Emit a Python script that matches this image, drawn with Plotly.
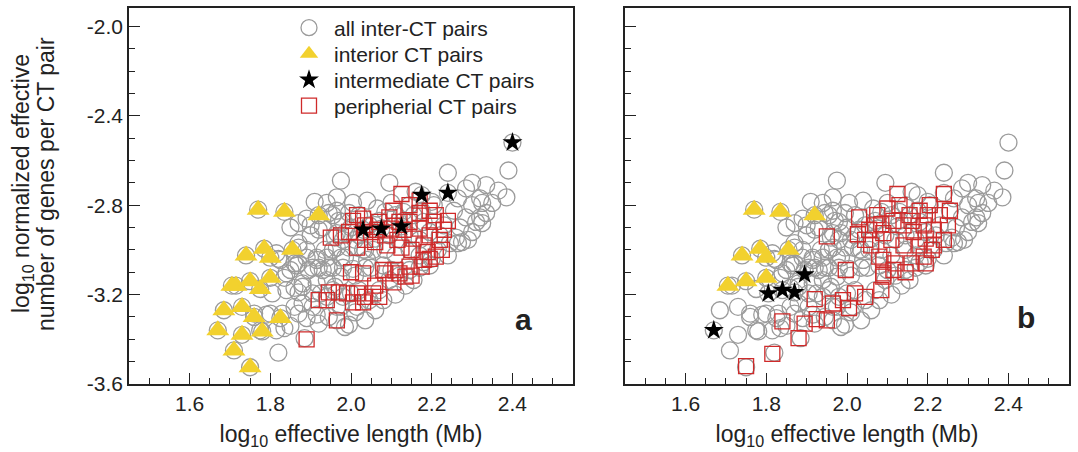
import plotly.graph_objects as go

# ---------------- data (log10 effective length, log10 normalized genes) ----------------
all_pairs = [
    # circles under interior (triangle) pairs
    (1.77,-2.82),(1.835,-2.83),(1.92,-2.845),(1.74,-3.025),(1.785,-2.995),(1.80,-3.035),(1.855,-3.00),
    (1.705,-3.16),(1.715,-3.16),(1.75,-3.14),(1.775,-3.175),(1.80,-3.125),(1.685,-3.27),(1.73,-3.255),
    (1.76,-3.30),(1.825,-3.305),(1.67,-3.36),(1.73,-3.38),(1.78,-3.365),(1.71,-3.45),(1.75,-3.525),
    # circles under stars
    (2.03,-2.91),(2.075,-2.905),(2.125,-2.895),(2.175,-2.755),(2.24,-2.745),(2.40,-2.52),
    # right arm
    (2.39,-2.645),(2.385,-2.765),(2.24,-2.655),(2.335,-2.71),(2.30,-2.70),(2.285,-2.725),(2.32,-2.77),
    (2.35,-2.79),(2.335,-2.835),(2.30,-2.80),(2.285,-2.855),(2.31,-2.875),(2.27,-2.90),(2.26,-2.945),
    (2.275,-2.965),(2.245,-2.97),(2.255,-2.825),(2.23,-2.89),(2.22,-2.935),(2.215,-3.00),(2.24,-3.025),
    (2.20,-3.04),(2.18,-3.055),(2.265,-2.77),(2.205,-2.80),(2.365,-2.735),(2.325,-2.79),(2.32,-2.855),
    (2.30,-2.92),(2.325,-2.88),(2.29,-2.955),(2.265,-2.97),
    # centre top
    (1.975,-2.69),(2.095,-2.70),(2.16,-2.74),(2.20,-2.785),(1.965,-2.765),(2.005,-2.79),(2.04,-2.78),
    (2.065,-2.815),(2.10,-2.79),(1.955,-2.845),(1.98,-2.875),(1.995,-2.835),(1.965,-2.925),(1.98,-2.955),
    (1.955,-3.00),(1.985,-3.035),(1.995,-2.99),(2.035,-3.08),(2.05,-3.08),(2.02,-2.845),(2.045,-2.89),
    (2.07,-2.87),(2.11,-2.845),(2.13,-2.87),(2.155,-2.845),(2.18,-2.875),(2.02,-2.935),(2.06,-2.95),
    (2.095,-2.935),(2.12,-2.955),(2.145,-2.935),(2.17,-2.955),(2.195,-2.92),(2.085,-3.00),(2.11,-3.025),
    (2.145,-3.00),(2.17,-3.025),(2.035,-3.00),(2.01,-2.955),(1.97,-2.87),(2.00,-2.90),(1.985,-2.925),
    (2.04,-3.045),(2.015,-2.99),(2.055,-3.00),(2.145,-2.80),(2.175,-2.825),(2.13,-2.83),(2.085,-2.83),
    # left centre
    (1.91,-2.785),(1.94,-2.79),(1.945,-2.835),(1.965,-2.825),(1.87,-2.88),(1.85,-2.90),(1.89,-2.86),
    (1.93,-2.90),(1.90,-2.89),(1.92,-2.91),(1.90,-2.935),(1.96,-2.945),(1.965,-2.99),(1.87,-2.97),
    (1.82,-3.04),(1.815,-3.015),(1.825,-3.045),(1.85,-3.09),(1.86,-3.06),(1.87,-3.06),(1.87,-2.99),
    (1.89,-3.00),(1.89,-3.035),(1.915,-3.035),(1.915,-3.045),(1.935,-3.00),(1.94,-3.035),(1.955,-3.00),
    (1.975,-3.035),(1.945,-3.08),(1.955,-3.08),(1.895,-3.09),(1.905,-3.08),(1.84,-3.105),(1.865,-3.07),
    (1.92,-3.08),(1.93,-3.09),(1.98,-3.08),(2.005,-3.085),(2.03,-3.00),(1.835,-3.125),(1.84,-3.18),
    (1.86,-3.17),(1.88,-3.15),(1.88,-3.165),(1.905,-3.195),(1.915,-3.15),(1.925,-3.195),(1.94,-3.21),
    (1.94,-3.135),(1.955,-3.18),(1.96,-3.165),(1.975,-3.12),(2.00,-3.195),(1.965,-3.255),(1.975,-3.255),
    (2.015,-3.255),(1.86,-3.255),(1.88,-3.24),(1.905,-3.255),(1.80,-3.285),(1.83,-3.285),(1.85,-3.34),
    (1.87,-3.285),(1.89,-3.305),(1.915,-3.29),(1.92,-3.33),(1.945,-3.30),(1.76,-3.285),(1.79,-3.29),
    (1.775,-3.36),(1.815,-3.36),(1.835,-3.35),(1.82,-3.46),(1.805,-3.195),(1.87,-3.19),(1.98,-3.21),
    (1.885,-3.395),(1.965,-3.315),(1.985,-3.345),
    # lower right
    (2.02,-3.18),(2.045,-3.225),(2.07,-3.18),(2.095,-3.135),(2.12,-3.115),(2.145,-3.09),(2.17,-3.08),
    (2.08,-3.225),(2.11,-3.20),(2.06,-3.27),(2.035,-3.315),(2.01,-3.28),(1.995,-3.335),(2.135,-3.16),
    (2.155,-3.135),(2.195,-3.07),(2.10,-3.09),(2.08,-3.07),(2.01,-3.115),
]

interior_a = [
    (1.77,-2.82),(1.835,-2.83),(1.92,-2.845),(1.74,-3.025),(1.785,-2.995),(1.80,-3.035),(1.855,-3.00),
    (1.705,-3.16),(1.715,-3.16),(1.75,-3.14),(1.775,-3.175),(1.80,-3.125),(1.685,-3.27),(1.73,-3.255),
    (1.76,-3.30),(1.825,-3.305),(1.67,-3.36),(1.73,-3.38),(1.78,-3.365),(1.71,-3.45),(1.75,-3.525),
]
intermediate_a = [(2.03,-2.91),(2.075,-2.905),(2.125,-2.895),(2.175,-2.755),(2.24,-2.745),(2.40,-2.52)]
peripheral_a = [
    (2.125,-2.75),(1.95,-2.945),(2.015,-2.845),(2.005,-2.87),(2.03,-2.86),(2.035,-2.89),(2.05,-2.92),
    (2.07,-2.875),(2.085,-2.935),(2.10,-2.905),(2.115,-2.955),(2.13,-2.91),(2.145,-2.875),(2.155,-2.95),
    (2.17,-2.905),(2.18,-2.98),(2.195,-2.935),(2.205,-2.875),(2.22,-2.955),(2.23,-2.91),(2.24,-2.87),
    (2.21,-2.845),(2.17,-2.835),(2.145,-2.80),(2.105,-2.825),(2.06,-2.965),(2.09,-2.98),(2.125,-2.99),
    (2.15,-3.00),(2.19,-3.01),(2.035,-2.955),(1.995,-2.92),(2.015,-2.99),(1.975,-2.935),(2.17,-2.78),
    (2.195,-2.825),(2.225,-3.00),(2.065,-2.91),(2.12,-2.875),(2.095,-2.855),
    (2.00,-3.10),(2.03,-3.105),(2.085,-3.105),(2.11,-3.09),(2.145,-3.075),(2.18,-3.045),(2.21,-3.03),
    (2.105,-3.145),(2.135,-3.12),(2.06,-3.16),(2.08,-3.09),(2.12,-3.105),(2.15,-3.115),(2.175,-3.075),
    (2.195,-3.04),(1.945,-3.19),(1.92,-3.225),(1.94,-3.225),(1.97,-3.19),(1.99,-3.195),(2.015,-3.195),
    (2.035,-3.21),(2.055,-3.195),(2.005,-3.235),(2.03,-3.235),(2.07,-3.21),(1.965,-3.315),(1.89,-3.40),
]

interior_b = [
    (1.77,-2.82),(1.835,-2.83),(1.92,-2.845),(1.74,-3.025),(1.785,-2.995),(1.80,-3.035),(1.855,-3.00),
    (1.705,-3.16),(1.75,-3.14),(1.80,-3.125),
]
intermediate_b = [(1.67,-3.36),(1.805,-3.195),(1.84,-3.18),(1.87,-3.19),(1.895,-3.11)]
peripheral_b = [
    (1.95,-2.94),(2.03,-2.855),(2.027,-2.93),(2.055,-2.91),(2.085,-2.885),(2.045,-2.955),(2.09,-2.925),
    (1.997,-3.09),(2.09,-3.045),(2.125,-2.75),(2.24,-2.75),(2.13,-2.80),(2.155,-2.845),(2.18,-2.825),
    (2.205,-2.80),(2.23,-2.845),(2.25,-2.89),(2.215,-2.91),(2.19,-2.89),(2.165,-2.92),(2.14,-2.89),
    (2.115,-2.87),(2.11,-2.955),(2.14,-2.98),(2.18,-2.98),(2.215,-2.98),(2.24,-2.955),(2.255,-2.825),
    (2.10,-2.815),(2.075,-2.845),(2.20,-2.845),(2.07,-2.89),(2.06,-2.98),(2.16,-2.87),(2.195,-2.95),
    (2.08,-3.03),(2.12,-3.06),(2.16,-3.06),(2.19,-3.03),(2.21,-3.00),(2.195,-3.06),(2.09,-3.105),
    (2.115,-3.09),(2.145,-3.10),(1.99,-3.225),(2.02,-3.195),(2.045,-3.21),(1.92,-3.22),(1.84,-3.32),
    (1.815,-3.465),(1.75,-3.52),(1.88,-3.395),(1.895,-3.33),(1.925,-3.31),(1.95,-3.315),(2.09,-3.12),
    (2.085,-3.18),(1.965,-3.24),(2.005,-3.26),
]

x_ticks = [1.6, 1.8, 2.0, 2.2, 2.4]
x_tick_labels = ["1.6", "1.8", "2.0", "2.2", "2.4"]
y_ticks = [-3.6, -3.2, -2.8, -2.4, -2.0]
y_tick_labels = ["-3.6", "-3.2", "-2.8", "-2.4", "-2.0"]

legend_names = ["all inter-CT pairs", "interior CT pairs", "intermediate CT pairs", "peripherial CT pairs"]

# ---------------- styles ----------------
GRAY = "#9b9b9b"
RED = "#cf2a2a"
GOLD = "#f2d12e"
INK = "#222222"
FONT = "Liberation Sans, Arial, sans-serif"
W, H = 1078, 452

# one single-row legend per series so the row spacing can follow the reference
legend_ids = ["legend", "legend2", "legend3", "legend4"]
legend_rows_px = [28, 54, 80, 106]


def xs(p):
    return [a for a, b in p]


def ys(p):
    return [b for a, b in p]


fig = go.Figure()

panels = [
    ("x", "y", interior_a, intermediate_a, peripheral_a, True),
    ("x2", "y2", interior_b, intermediate_b, peripheral_b, False),
]
for xa, ya, inter, med, peri, show in panels:
    fig.add_trace(go.Scatter(
        x=xs(all_pairs), y=ys(all_pairs), mode="markers", xaxis=xa, yaxis=ya,
        name=legend_names[0], showlegend=show, legend=legend_ids[0],
        marker=dict(symbol="circle-open", size=17, color=GRAY, line=dict(width=1.3, color=GRAY))))
    fig.add_trace(go.Scatter(
        x=xs(peri), y=ys(peri), mode="markers", xaxis=xa, yaxis=ya,
        name=legend_names[3], showlegend=show, legend=legend_ids[3],
        marker=dict(symbol="square-open", size=15, color=RED, line=dict(width=1.3, color=RED))))
    fig.add_trace(go.Scatter(
        x=xs(inter), y=ys(inter), mode="markers", xaxis=xa, yaxis=ya,
        name=legend_names[1], showlegend=show, legend=legend_ids[1],
        marker=dict(symbol="triangle-up", size=20, color=GOLD, line=dict(width=0))))
    fig.add_trace(go.Scatter(
        x=xs(med), y=ys(med), mode="markers", xaxis=xa, yaxis=ya,
        name=legend_names[2], showlegend=show, legend=legend_ids[2],
        marker=dict(symbol="star", size=15, color="black", line=dict(width=0))))

ydom = [1 - 384 / H, 1 - 8 / H]
common_x = dict(range=[1.45, 2.55], tickmode="array", tickvals=x_ticks, ticktext=x_tick_labels,
                ticks="inside", ticklen=11, tickwidth=1.3, tickcolor=INK, showline=True,
                linecolor=INK, linewidth=1.5, mirror=True, showgrid=False, zeroline=False,
                tickfont=dict(family=FONT, size=21, color=INK),
                minor=dict(ticks="inside", ticklen=6, tickwidth=1, tickcolor=INK, dtick=0.05,
                           tick0=1.45, showgrid=False),
                title=dict(text="log<sub>10</sub> effective length (Mb)",
                           font=dict(family=FONT, size=23, color=INK), standoff=12))
common_y = dict(range=[-3.6, -1.918], domain=ydom, tickmode="array", tickvals=y_ticks,
                ticktext=y_tick_labels, ticks="inside", ticklen=11, tickwidth=1.3, tickcolor=INK,
                showline=True, linecolor=INK, linewidth=1.5, mirror=True, showgrid=False,
                zeroline=False, tickfont=dict(family=FONT, size=21, color=INK),
                minor=dict(ticks="inside", ticklen=6, tickwidth=1, tickcolor=INK, dtick=0.1,
                           tick0=-3.6, showgrid=False))

legend_style = dict(x=284 / W, xanchor="left", yanchor="middle", bgcolor="rgba(0,0,0,0)",
                    font=dict(family=FONT, size=21, color=INK), itemsizing="trace", itemwidth=40)

fig.update_layout(
    width=W, height=H, margin=dict(l=0, r=0, t=0, b=0, autoexpand=False),
    paper_bgcolor="white", plot_bgcolor="white",
    xaxis=dict(domain=[129 / W, 573 / W], anchor="y", automargin=False, **common_x),
    yaxis=dict(anchor="x", automargin=False, **common_y),
    xaxis2=dict(domain=[625 / W, 1069 / W], anchor="y2", automargin=False, **common_x),
    yaxis2=dict(anchor="x2", showticklabels=False, automargin=False, **common_y),
    showlegend=True,
    font=dict(family=FONT),
)
for lid, row in zip(legend_ids, legend_rows_px):
    fig.update_layout({lid: dict(y=1 - row / H, **legend_style)})

annos = [
    dict(text="log<sub>10</sub> normalized effective", x=23 / W, y=1 - 184 / H, textangle=-90),
    dict(text="number of genes per CT pair", x=46 / W, y=1 - 184 / H, textangle=-90),
]
for a in annos:
    fig.add_annotation(xref="paper", yref="paper", showarrow=False, xanchor="center", yanchor="middle",
                       font=dict(family=FONT, size=23, color=INK), **a)
fig.add_annotation(text="<b>a</b>", xref="paper", yref="paper", x=523 / W, y=1 - 319 / H,
                   xanchor="center", yanchor="middle",
                   showarrow=False, font=dict(family=FONT, size=30, color=INK))
fig.add_annotation(text="<b>b</b>", xref="paper", yref="paper", x=1026 / W, y=1 - 317 / H,
                   xanchor="center", yanchor="middle",
                   showarrow=False, font=dict(family=FONT, size=30, color=INK))

fig.write_html("out.html")
